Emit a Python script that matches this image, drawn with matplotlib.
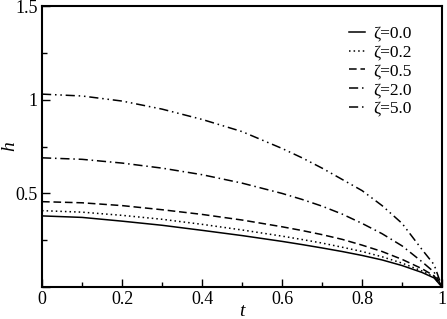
import matplotlib
matplotlib.use("Agg")
from matplotlib import pyplot as plt
from matplotlib.ticker import MultipleLocator, FuncFormatter

t = [0.0, 0.1, 0.2, 0.3, 0.4, 0.5, 0.6, 0.65, 0.7, 0.75, 0.8, 0.85, 0.9, 0.95, 0.98, 1.0]
h_z00 = [0.380, 0.372, 0.352, 0.330, 0.303, 0.275, 0.244, 0.227, 0.209, 0.190, 0.169, 0.145, 0.115, 0.078, 0.049, 0.0]
h_z02 = [0.408, 0.400, 0.383, 0.362, 0.335, 0.305, 0.272, 0.254, 0.235, 0.213, 0.190, 0.162, 0.128, 0.086, 0.054, 0.0]
h_z05 = [0.456, 0.450, 0.435, 0.413, 0.388, 0.358, 0.322, 0.302, 0.280, 0.255, 0.224, 0.190, 0.148, 0.098, 0.060, 0.0]
h_z20 = [0.690, 0.682, 0.662, 0.635, 0.600, 0.555, 0.500, 0.468, 0.432, 0.390, 0.340, 0.285, 0.220, 0.135, 0.080, 0.0]
h_z50 = [1.030, 1.020, 0.993, 0.950, 0.895, 0.830, 0.740, 0.690, 0.635, 0.575, 0.515, 0.435, 0.340, 0.200, 0.120, 0.0]
labels = ["ζ=0.0", "ζ=0.2", "ζ=0.5", "ζ=2.0", "ζ=5.0"]


def main():
    plt.rcParams["font.family"] = ["Liberation Serif", "DejaVu Serif"]
    fig = plt.figure(figsize=(4.47, 3.19), dpi=100)
    ax = fig.add_axes([0.094, 0.100, 0.895, 0.881])

    styles = ["-", (0, (1, 2)), (0, (5, 2.5)), (0, (6, 2.5, 1, 2.5)),
              (0, (6, 2.5, 1, 2.5, 1, 2.5))]
    series = [h_z00, h_z02, h_z05, h_z20, h_z50]
    for h, ls, lab in zip(series, styles, labels):
        ax.plot(t, h, color="black", linestyle=ls, linewidth=1.1, label=lab)

    ax.set_xlim(0, 1)
    ax.set_ylim(0, 1.5)
    ax.xaxis.set_major_locator(MultipleLocator(0.2))
    ax.xaxis.set_minor_locator(MultipleLocator(0.1))
    ax.yaxis.set_major_locator(MultipleLocator(0.5))
    ax.yaxis.set_minor_locator(MultipleLocator(0.25))
    ax.xaxis.set_major_formatter(FuncFormatter(lambda v, p: f"{v:g}"))
    ax.yaxis.set_major_formatter(
        FuncFormatter(lambda v, p: "" if abs(v) < 1e-9 else f"{v:g}"))
    ax.tick_params(which="both", direction="in", top=False, right=False,
                   labelsize=13, width=1.0, pad=3)
    ax.tick_params(which="major", length=6)
    ax.tick_params(which="minor", length=3.5)
    for s in ax.spines.values():
        s.set_linewidth(1.5)

    ax.set_xlabel("t", fontsize=14, style="italic", labelpad=-4)
    ax.set_ylabel("h", fontsize=14, style="italic", labelpad=-2)

    ax.legend(loc="upper right", frameon=False, fontsize=12.5,
              handlelength=0.9, handletextpad=0.5, labelspacing=0.15,
              borderpad=0, borderaxespad=0, bbox_to_anchor=(0.925, 0.93))

    fig.savefig("out.png", dpi=100)


if __name__ == "__main__":
    main()
